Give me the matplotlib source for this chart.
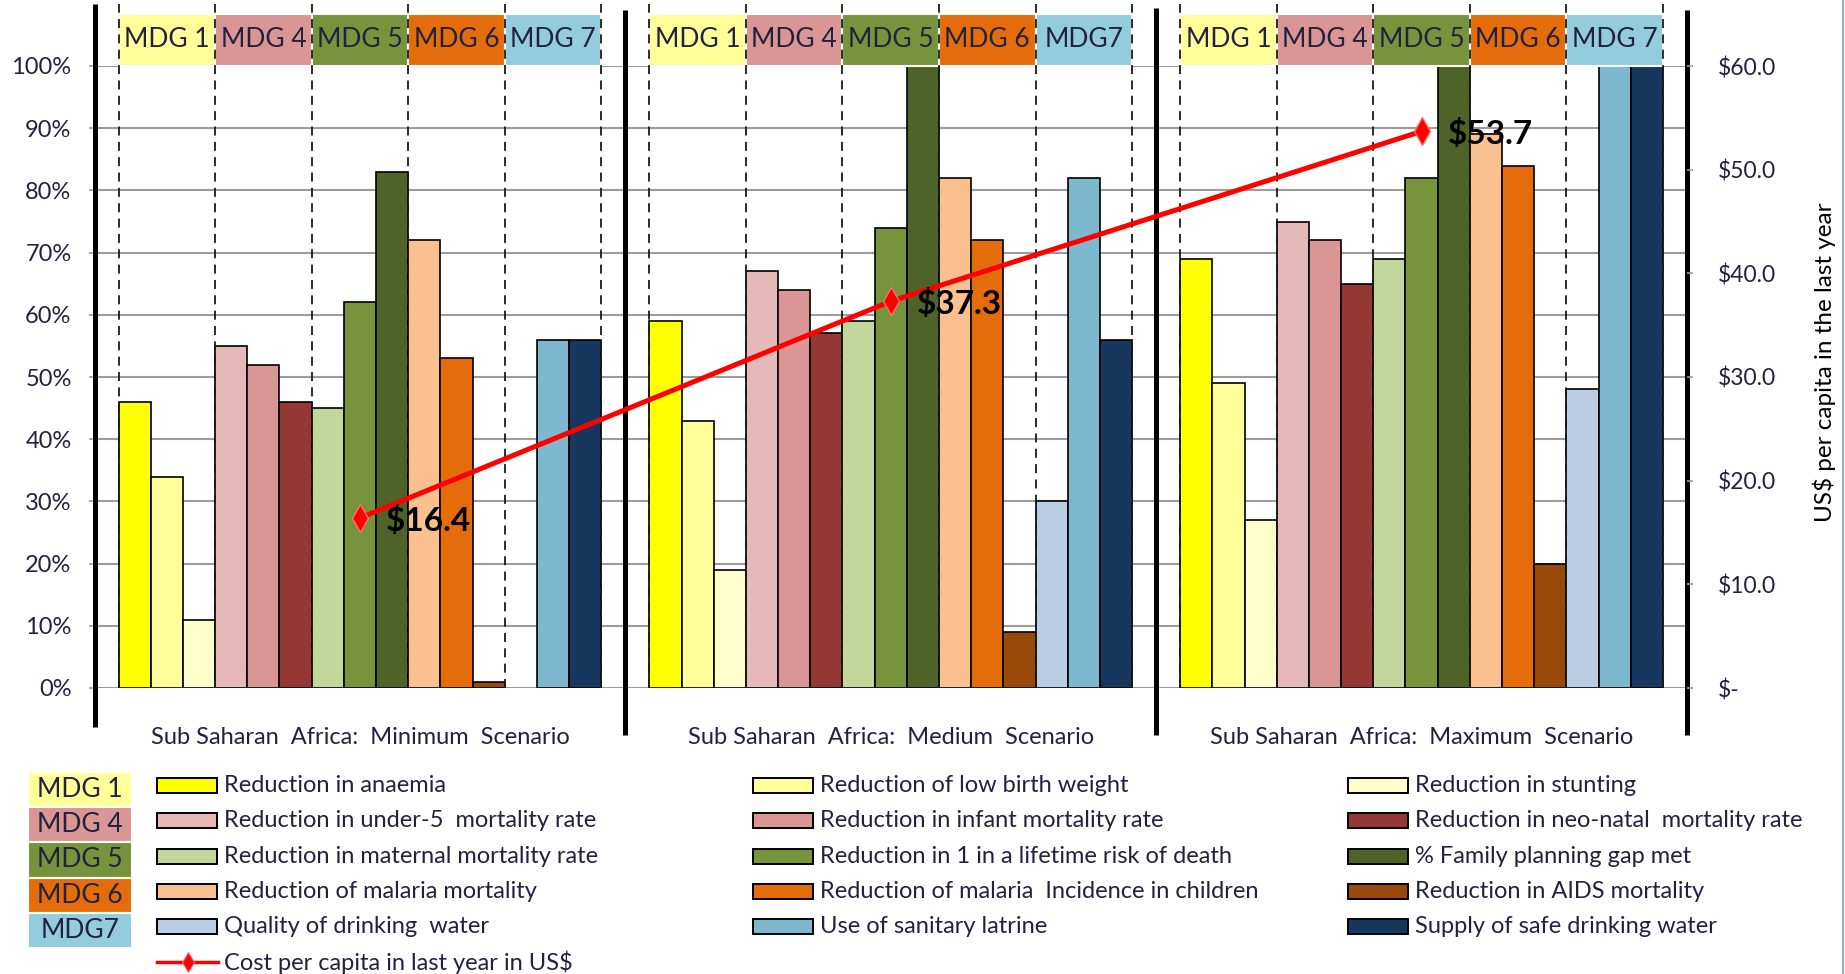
import matplotlib
matplotlib.use("Agg")
import matplotlib.pyplot as plt
from matplotlib.patches import Rectangle
from matplotlib.ticker import FuncFormatter

plt.rcParams['font.family'] = ['Lato', 'DejaVu Sans']

# ---- data -------------------------------------------------------------
scenarios = ["Sub Saharan  Africa:  Minimum  Scenario",
             "Sub Saharan  Africa:  Medium  Scenario",
             "Sub Saharan  Africa:  Maximum  Scenario"]

indicators = ["Reduction in anaemia",
              "Reduction of low birth weight",
              "Reduction in stunting",
              "Reduction in under-5  mortality rate",
              "Reduction in infant mortality rate",
              "Reduction in neo-natal  mortality rate",
              "Reduction in maternal mortality rate",
              "Reduction in 1 in a lifetime risk of death",
              "% Family planning gap met",
              "Reduction of malaria mortality",
              "Reduction of malaria  Incidence in children",
              "Reduction in AIDS mortality",
              "Quality of drinking  water",
              "Use of sanitary latrine",
              "Supply of safe drinking water"]

indicator_colors = ["#FFFF00", "#FFFF99", "#FFFFCC",
                    "#E6B9B8", "#D99694", "#953735",
                    "#C3D69B", "#77933C", "#4F6228",
                    "#FAC090", "#E46C0A", "#984807",
                    "#B9CDE5", "#7DB8CF", "#17375E"]

minimum_pct = [46, 34, 11, 55, 52, 46, 45, 62, 83, 72, 53, 1, 0, 56, 56]
medium_pct = [59, 43, 19, 67, 64, 57, 59, 74, 100, 82, 72, 9, 30, 82, 56]
maximum_pct = [69, 49, 27, 75, 72, 65, 69, 82, 100, 89, 84, 20, 48, 100, 100]
scenario_values = [minimum_pct, medium_pct, maximum_pct]

cost_per_capita = [16.4, 37.3, 53.7]
cost_label = "Cost per capita in last year in US$"

goal_headers = [["MDG 1", "MDG 4", "MDG 5", "MDG 6", "MDG 7"],
                ["MDG 1", "MDG 4", "MDG 5", "MDG 6", "MDG7"],
                ["MDG 1", "MDG 4", "MDG 5", "MDG 6", "MDG 7"]]
legend_goals = ["MDG 1", "MDG 4", "MDG 5", "MDG 6", "MDG7"]
goal_colors = ["#FFFF99", "#D99694", "#77933C", "#E46C0A", "#93CDDD"]

pct_ticks = list(range(0, 101, 10))
usd_ticks = list(range(0, 61, 10))

# ---- layout -----------------------------------------------------------
W, H = 1845, 974
fig = plt.figure(figsize=(W / 100, H / 100), dpi=100)
text_dark = "#22223f"
grid_grey = "#9c9c9c"

# overlay axes in pixel units for the legend block
lax = fig.add_axes([0, 0, 1, 1])
lax.set_xlim(0, W)
lax.set_ylim(H, 0)
lax.axis("off")

ax = fig.add_axes([94.5 / W, 1 - 688 / H, (1687 - 94.5) / W, (688 - 66) / H])
n = len(indicators)
bw = 1 / (n + 1.5)

for j, vals in enumerate(scenario_values):
    for i, v in enumerate(vals):
        x = j + 0.5 + (i - (n - 1) / 2) * bw
        ax.bar(x, v, width=bw, color=indicator_colors[i],
               edgecolor="black", linewidth=1.2 if v > 0 else 0, zorder=2)

ax.set_xlim(0, 3)
ax.set_ylim(0, 100)
ax.set_xticks([])
ax.set_yticks(pct_ticks)
ax.yaxis.set_major_formatter(FuncFormatter(lambda v, p: f"{int(v)}%"))
ax.yaxis.grid(True, color=grid_grey, linewidth=1.5, zorder=0)
ax.set_axisbelow(True)
ax.tick_params(axis="y", direction="out", length=4.5, width=1.2, color=grid_grey,
               labelsize=17, labelcolor=text_dark, pad=12)
for s in ax.spines.values():
    s.set_visible(False)

# goal header boxes and dashed goal separators
for j in range(3):
    start = j + 0.5 - n / 2 * bw
    for k in range(5):
        x0 = start + 3 * k * bw
        ax.add_patch(Rectangle((x0, 100), 3 * bw, 8.4, facecolor=goal_colors[k],
                               edgecolor="white", linewidth=1.5, clip_on=False, zorder=3))
        ax.text(x0 + 1.5 * bw, 104.3, goal_headers[j][k], ha="center", va="center",
                fontsize=19, color=text_dark, zorder=6, clip_on=False)
    for k in range(6):
        xv = start + 3 * k * bw
        ax.plot([xv, xv], [0, 110], color="#1a1a1a", linewidth=1.3,
                linestyle=(0, (5, 3.5)), clip_on=False, zorder=4)
    ax.text(j + 0.5, -8.0, scenarios[j], ha="center", va="center",
            fontsize=17, color=text_dark, clip_on=False)

# heavy scenario dividers and axis lines
for xv, y0, y1 in [(0, -6.3, 110.0), (1, -7.6, 109.0), (2, -7.6, 109.4), (3, -7.6, 109.0)]:
    ax.plot([xv, xv], [y0, y1], color="black", linewidth=3.6,
            solid_capstyle="butt", clip_on=False, zorder=5)

# cost per capita on the secondary axis
ax2 = ax.twinx()
ax2.set_ylim(0, 60)
ax2.set_yticks(usd_ticks)
ax2.yaxis.set_major_formatter(FuncFormatter(lambda v, p: "$-" if v == 0 else f"${v:.1f}"))
ax2.tick_params(axis="y", direction="out", length=4.5, width=1.2, color=grid_grey,
                labelsize=16.5, labelcolor=text_dark, pad=18)
for s in ax2.spines.values():
    s.set_visible(False)
xs = [j + 0.5 for j in range(3)]
ax2.plot(xs, cost_per_capita, color="#ff0000", linewidth=3.6, marker="d",
         markersize=14, markerfacecolor="#ff0000", markeredgecolor="#ff7070",
         markeredgewidth=1, zorder=7, clip_on=False)
for x, v in zip(xs, cost_per_capita):
    ax2.annotate(f"${v}", (x, v), xytext=(19, -2), textcoords="offset points",
                 ha="left", va="center", fontsize=24, fontweight="bold",
                 color="black", zorder=8)

fig.text(1824 / W, 1 - 362 / H, "US$ per capita in the last year", rotation=90,
         ha="center", va="center", fontsize=17.5, color="black")

# ---- legend block -----------------------------------------------------
row0, row_h = 785.5, 35.3
for r, name in enumerate(legend_goals):
    top = row0 - 13.8 + r * row_h
    lax.add_patch(Rectangle((27.6, top), 104.4, row_h, facecolor=goal_colors[r],
                            edgecolor="white", linewidth=1.5))
    lax.text(79.8, top + row_h / 2, name, ha="center", va="center",
             fontsize=19, color=text_dark)

col_x = [157, 753, 1348]
for i, name in enumerate(indicators):
    r, c = divmod(i, 3)
    y = row0 + r * row_h
    lax.add_patch(Rectangle((col_x[c], y - 7.5), 60, 15, facecolor=indicator_colors[i],
                            edgecolor="black", linewidth=1.4))
    lax.text(col_x[c] + 67, y, name, ha="left", va="center", fontsize=17, color=text_dark)

y_line = row0 + 5 * row_h
lax.plot([157, 218], [y_line, y_line], color="#ff0000", linewidth=2.5)
lax.plot([187.5], [y_line], marker="d", markersize=10, color="#ff0000",
         markeredgecolor="#ff7070", markeredgewidth=0.8)
lax.text(224, y_line, cost_label, ha="left", va="center", fontsize=17, color=text_dark)

# thin frame edge on the right
lax.plot([1843, 1843], [0, H], color="#9aabab", linewidth=1.5)

fig.savefig("out.png", dpi=100)
